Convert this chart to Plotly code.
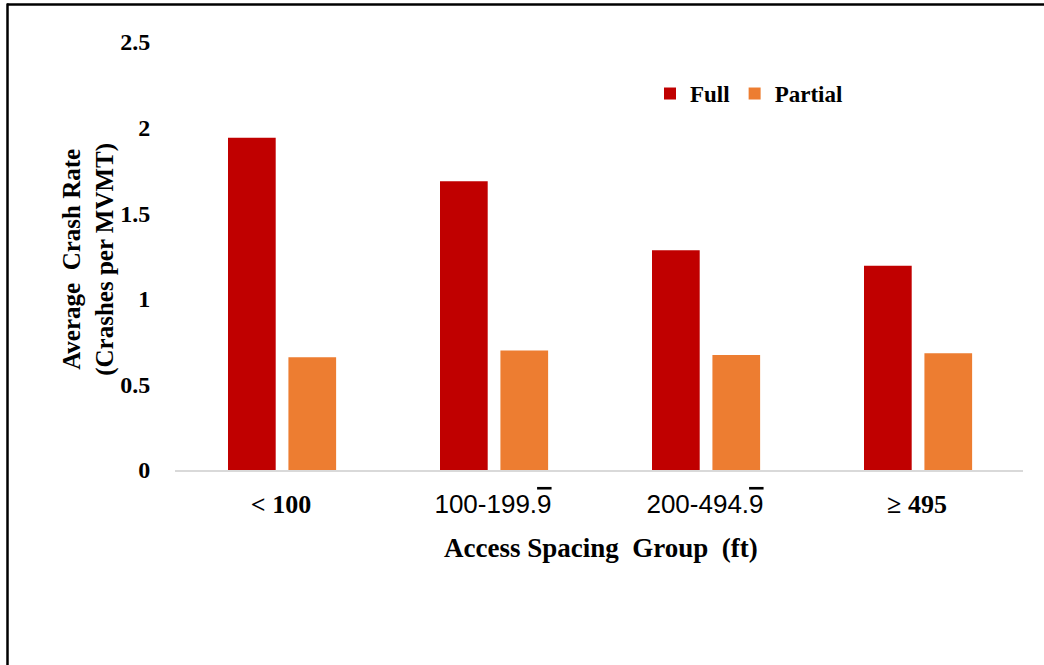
import plotly.graph_objects as go

categories = ["< 100", "100-199.9", "200-494.9", "\u2265 495"]
tick_labels = [
    "<b>&lt; 100</b>",
    "<span style='font-family:Liberation Sans'>100-199.<span style='text-decoration:overline'>9</span></span>",
    "<span style='font-family:Liberation Sans'>200-494.<span style='text-decoration:overline'>9</span></span>",
    "<b>\u2265 495</b>",
]
full_values = [1.94, 1.686, 1.283, 1.193]
partial_values = [0.659, 0.698, 0.671, 0.682]
y_ticks = [0, 0.5, 1, 1.5, 2, 2.5]
y_tick_labels = ["0", "0.5", "1", "1.5", "2", "2.5"]

SERIF = "Liberation Serif"
x_idx = list(range(len(categories)))

fig = go.Figure()
fig.add_trace(go.Bar(
    x=x_idx, y=full_values, name="<b>Full</b>",
    marker=dict(color="#C00000", line=dict(width=0)),
    width=0.225, offset=-0.25,
))
fig.add_trace(go.Bar(
    x=x_idx, y=partial_values, name="<b>Partial</b>",
    marker=dict(color="#ED7D31", line=dict(width=0)),
    width=0.225, offset=0.035,
))

fig.update_layout(
    width=1044, height=665,
    margin=dict(l=175, r=21, t=42, b=195),
    paper_bgcolor="white", plot_bgcolor="white",
    barmode="group",
    font=dict(family=SERIF, color="#000000", size=24),
    showlegend=True,
    legend=dict(
        orientation="h", x=(650 - 175) / 848, y=(470 - 94) / 427.5,
        xanchor="left", yanchor="middle",
        font=dict(family=SERIF, size=23, color="#000000"),
        bgcolor="rgba(0,0,0,0)", itemwidth=30, traceorder="normal",
    ),
    xaxis=dict(
        range=[-0.5, 3.5],
        tickmode="array", tickvals=x_idx, ticktext=tick_labels,
        showline=True, linecolor="#D9D9D9", linewidth=1.5,
        showgrid=False, zeroline=False,
        ticks="outside", ticklen=10, tickcolor="rgba(0,0,0,0)",
        tickfont=dict(family=SERIF, size=26, color="#000000"),
    ),
    yaxis=dict(
        range=[0, 2.5],
        tickmode="array", tickvals=y_ticks,
        ticktext=["<b>%s</b>" % t for t in y_tick_labels],
        showline=False, showgrid=False, zeroline=False,
        ticks="outside", ticklen=19, tickcolor="rgba(0,0,0,0)",
        tickfont=dict(family=SERIF, size=24, color="#000000"),
    ),
    annotations=[
        dict(
            text="<b>Average  Crash Rate<br>(Crashes per MVMT)</b>",
            xref="paper", yref="paper",
            x=(89 - 175) / 848, y=(470 - 260) / 427.5,
            xanchor="center", yanchor="middle", textangle=-90,
            showarrow=False, font=dict(family=SERIF, size=25, color="#000000"),
        ),
        dict(
            text="<b>Access Spacing  Group  (ft)</b>",
            xref="paper", yref="paper",
            x=(601 - 175) / 848, y=(470 - 548) / 427.5,
            xanchor="center", yanchor="middle",
            showarrow=False, font=dict(family=SERIF, size=27, color="#000000"),
        ),
    ],
    shapes=[
        dict(type="line", xref="paper", yref="paper",
             x0=(7 - 175) / 848, x1=(1046 - 175) / 848,
             y0=(470 - 5) / 427.5, y1=(470 - 5) / 427.5,
             line=dict(color="black", width=2.5)),
        dict(type="line", xref="paper", yref="paper",
             x0=(7.5 - 175) / 848, x1=(7.5 - 175) / 848,
             y0=(470 - 4) / 427.5, y1=(470 - 667) / 427.5,
             line=dict(color="black", width=2.5)),
    ],
)

fig.write_html(
    "out.html",
    config={"displayModeBar": False},
    post_script="document.body.style.margin='0px';document.body.style.overflow='hidden';",
)
